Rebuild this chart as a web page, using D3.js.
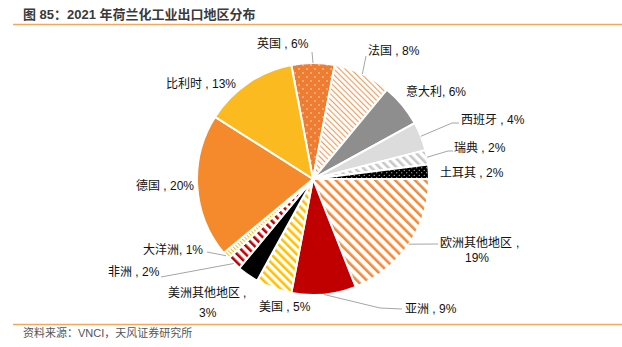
<!DOCTYPE html>
<html><head><meta charset="utf-8">
<script src="https://cdn.jsdelivr.net/npm/d3@7/dist/d3.min.js"></script>
<style>
html,body{margin:0;padding:0;background:#fff;}
svg{display:block;}
text{font-family:"Liberation Sans","Noto Sans CJK SC",Arial,sans-serif;}
</style></head>
<body>
<svg id="chart" width="622" height="347"></svg>
<script>
// ---- data ----
const title = "图 85：2021 年荷兰化工业出口地区分布";
const source = "资料来源：VNCI，天风证券研究所";
const categories = ["英国","法国","意大利","西班牙","瑞典","土耳其","欧洲其他地区","亚洲","美国","美洲其他地区","非洲","大洋洲","德国","比利时"];
const values = [6,8,6,4,2,2,19,9,5,3,2,1,20,13];
const valueLabels = ["6%","8%","6%","4%","2%","2%","19%","9%","5%","3%","2%","1%","20%","13%"];

// ---- layout / style ----
const W = 622, H = 347;
const cx = 313, cy = 179, R = 116;
const startDeg = -10.8;
const fills = ["url(#pDotsOrange)","url(#pStripeFr)","#8E8E8E","#DCDCDC","url(#pStripeGray)","url(#pDotsBlack)",
  "url(#pStripeEu)","#C00000","url(#pStripeUS)","#000000","url(#pStripeAf)","url(#pStripeOc)","#F58A2D","#FBBA20"];
const labelLayout = [
  {x:257,y:48, sep:" , ", leader:[[312,52]]},
  {x:368,y:55, sep:" , ", leader:[[366,56]]},
  {x:406,y:96, sep:", ", leader:null},
  {x:461,y:124, sep:" , ", leader:[[452,123],[459,123]]},
  {x:454,y:152, sep:" , ", leader:[[448,151],[453,151]]},
  {x:440,y:177, sep:" , ", leader:null},
  {x:440,y:247, two:true, commaX:516, vx:465, vy:262, leader:[[438,244]]},
  {x:405,y:313, sep:" , ", leader:[[380,308],[402,309]]},
  {x:259,y:311, sep:" , ", leader:null},
  {x:168,y:297, two:true, commaX:243, vx:199, vy:317, leader:null},
  {x:108,y:276, sep:" , ", leader:[[161,277]]},
  {x:143,y:254, sep:", ", leader:[[207,252]]},
  {x:136,y:190, sep:" , ", leader:null},
  {x:166,y:88, sep:"  , ", leader:null}
];

const svg = d3.select("#chart");
const defs = svg.append("defs");

function stripes(id, spacing, width, color){
  const p = defs.append("pattern").attr("id", id).attr("patternUnits","userSpaceOnUse")
    .attr("width", spacing).attr("height", spacing).attr("patternTransform","rotate(-45)");
  p.append("rect").attr("width", spacing).attr("height", spacing).attr("fill","#fff");
  p.append("rect").attr("x",0).attr("y",0).attr("width", width).attr("height", spacing).attr("fill", color);
}
function dots(id, size, bg, dot, r){
  const p = defs.append("pattern").attr("id", id).attr("patternUnits","userSpaceOnUse")
    .attr("width", size).attr("height", size);
  p.append("rect").attr("width", size).attr("height", size).attr("fill", bg);
  p.append("circle").attr("cx", size/4).attr("cy", size/4).attr("r", r).attr("fill", dot);
  p.append("circle").attr("cx", size*3/4).attr("cy", size*3/4).attr("r", r).attr("fill", dot);
}
dots("pDotsOrange", 8, "#EE7D31", "#FFE9DA", 0.75);
dots("pDotsBlack", 5, "#000", "#fff", 0.55);
stripes("pStripeFr", 4, 1.1, "#F2995A");
stripes("pStripeGray", 6, 2.6, "#C8C8C8");
stripes("pStripeEu", 7, 2.6, "#F08A3C");
stripes("pStripeUS", 6, 2.6, "#FFC000");
stripes("pStripeAf", 6, 2.6, "#C00000");
stripes("pStripeOc", 3, 1, "#FFC000");

// title
svg.append("text").attr("x",23).attr("y",19).attr("font-size",13).attr("font-weight","bold")
  .attr("fill","#3a3a3a").attr("font-family","'Noto Sans CJK SC',sans-serif").text(title);
svg.append("line").attr("x1",13).attr("x2",622).attr("y1",24.5).attr("y2",24.5)
  .attr("stroke","#F7A65C").attr("stroke-width",1.5);
svg.append("line").attr("x1",13).attr("x2",622).attr("y1",324.5).attr("y2",324.5)
  .attr("stroke","#F7A65C").attr("stroke-width",1.5);
svg.append("text").attr("x",23).attr("y",337).attr("font-size",11)
  .attr("fill","#555").attr("font-family","'Noto Sans CJK SC',sans-serif").text(source);

// pie
const toRad = d => d*Math.PI/180;
const pie = d3.pie().sort(null).value(d=>d)
  .startAngle(toRad(startDeg)).endAngle(toRad(startDeg+360));
const arcs = pie(values);
const arc = d3.arc().innerRadius(0).outerRadius(R);
const g = svg.append("g").attr("transform",`translate(${cx},${cy})`);
g.selectAll("path").data(arcs).join("path")
  .attr("d", arc)
  .attr("fill", (d,i)=>fills[i])
  .attr("stroke","#fff").attr("stroke-width",2).attr("stroke-linejoin","round");

// leader lines
arcs.forEach((d,i)=>{
  const L = labelLayout[i];
  if(!L.leader) return;
  const mid = (d.startAngle+d.endAngle)/2;
  const p0 = [cx + R*Math.sin(mid), cy - R*Math.cos(mid)];
  const pts = [p0].concat(L.leader);
  svg.append("path").attr("d", d3.line()(pts)).attr("fill","none")
    .attr("stroke","#A6A6A6").attr("stroke-width",1);
});

// labels
const lab = svg.append("g").attr("font-size",12).attr("fill","#111");
categories.forEach((c,i)=>{
  const L = labelLayout[i];
  if(L.two){
    lab.append("text").attr("x",L.x).attr("y",L.y).text(c);
    lab.append("text").attr("x",L.commaX).attr("y",L.y).text(",");
    lab.append("text").attr("x",L.vx).attr("y",L.vy).text(valueLabels[i]);
  } else {
    lab.append("text").attr("x",L.x).attr("y",L.y).text(c + L.sep + valueLabels[i]);
  }
});
</script>
</body></html>
